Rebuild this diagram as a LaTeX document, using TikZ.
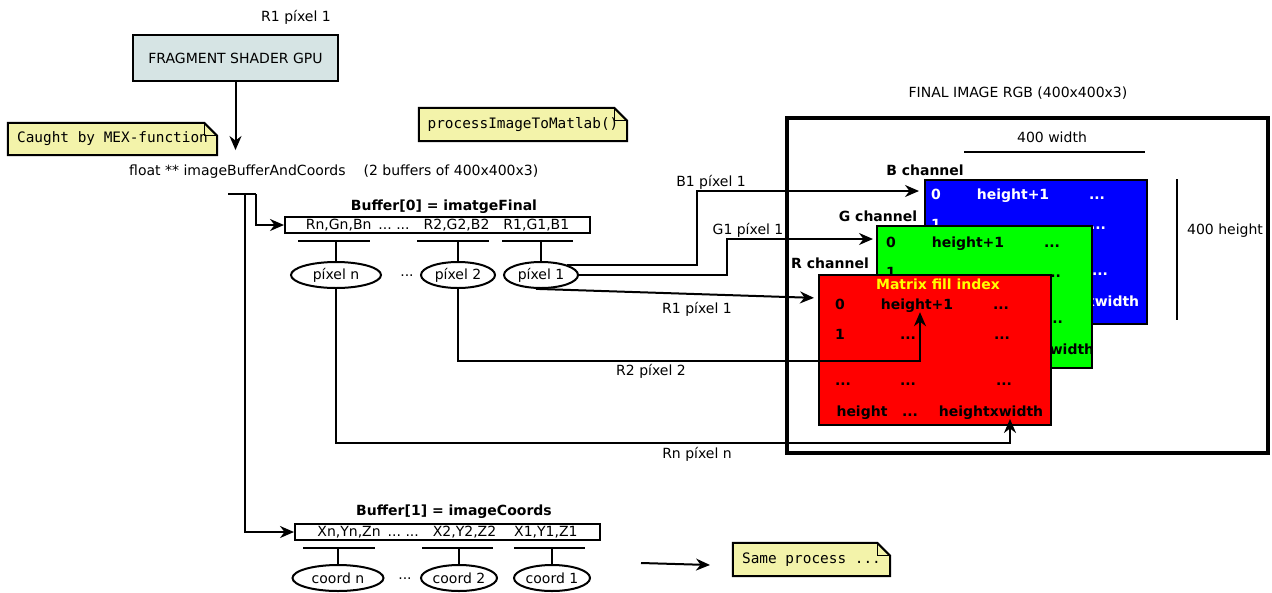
\documentclass[tikz,border=0pt]{standalone}
\usepackage{fontspec}
\setmainfont{DejaVu Sans}
\setmonofont{DejaVu Sans Mono}
\usetikzlibrary{arrows.meta,calc,shapes.geometric,backgrounds}
\definecolor{notefill}{HTML}{F3F3AA}
\definecolor{gpufill}{HTML}{D6E4E4}
\definecolor{titleyellow}{HTML}{FFFF00}

\tikzset{
  txt/.style={font=\fontsize{14}{16}\selectfont, inner sep=0pt},
  bold/.style={font=\fontsize{14}{16}\selectfont\bfseries, inner sep=0pt},
  wire/.style={line width=2pt},
  arr/.style={wire, -{Stealth[length=14pt,width=12pt,inset=4.5pt]}},
  bufbox/.style={txt, draw, line width=2pt, minimum width=305pt, minimum height=16pt},
  elem/.style={txt, draw, ellipse, line width=2pt, minimum width=90pt, minimum height=26pt},
  notetext/.style={font=\fontsize{14.4}{16}\ttfamily, inner sep=0pt},
  notedraw/.style={draw=black, line width=2pt, fill=notefill},
  chan/.style={draw, line width=2pt, inner sep=0pt, anchor=north west},
  cell/.style={bold, anchor=base, text height=10pt, text depth=3pt},
}

% sticky note outline with a folded top-right corner
\newcommand\foldnote[1]{%
  \begin{scope}[on background layer]
    \filldraw[notedraw] (#1.north west) -- ($(#1.north east)+(-13,0)$)
      -- ($(#1.north east)+(0,13)$) -- (#1.south east) -- (#1.south west) -- cycle;
  \end{scope}
  \draw[line width=1.3pt] ($(#1.north east)+(-13,0)$) -- ++(0,13) -- ++(13,0);
}

% index grid of one colour channel; #1 prefix, #2 box, #3/#4 shift, #5 text colour
\newcommand\chgrid[5]{%
  \begin{scope}[every node/.append style={cell, text=#5}]
    \node (#1-a0) at ($(#2.north west)+({#3+22},{#4+35})$) {0};
    \node (#1-a1) at ($(#2.north west)+({#3+99},{#4+35})$) {height+1};
    \node (#1-a2) at ($(#2.north west)+({#3+183},{#4+35})$) {...};
    \node (#1-b0) at ($(#2.north west)+({#3+22},{#4+65})$) {1};
    \node (#1-b1) at ($(#2.north west)+({#3+90},{#4+65})$) {...};
    \node (#1-b2) at ($(#2.north west)+({#3+184},{#4+65})$) {...};
    \node (#1-c0) at ($(#2.north west)+({#3+25},{#4+111})$) {...};
    \node (#1-c1) at ($(#2.north west)+({#3+90},{#4+111})$) {...};
    \node (#1-c2) at ($(#2.north west)+({#3+186},{#4+111})$) {...};
    \node (#1-d0) at ($(#2.north west)+({#3+44},{#4+142})$) {height};
    \node (#1-d1) at ($(#2.north west)+({#3+92},{#4+142})$) {...};
    \node (#1-d2) at ($(#2.north west)+({#3+173},{#4+142})$) {heightxwidth};
  \end{scope}
}

\begin{document}
\begin{tikzpicture}[x=1pt,y=-1pt]
\useasboundingbox (0,0) rectangle (1272,592);

% ---- GPU side ----
\node[txt] (topr1) at (296,17) {R1 píxel 1};
\node[txt, draw, fill=gpufill, line width=2pt, minimum width=205pt, minimum height=46pt]
  (gpu) at (235.5,58) {FRAGMENT SHADER GPU};
\node[notetext, minimum width=209pt, minimum height=32pt] (mex) at (112.5,139) {Caught by MEX-function};
\foldnote{mex}
\node[notetext, minimum width=208pt, minimum height=33pt] (proc) at (523,124.5) {processImageToMatlab()};
\foldnote{proc}

\node[txt, anchor=west] (fbuf) at (129,172) {float ** imageBufferAndCoords\hspace{18pt}(2 buffers of 400x400x3)};
\draw[arr, shorten >=15pt] (gpu.south) -- (gpu.south |- fbuf.north);

\coordinate (fork0) at (228,194);
\coordinate (fork1) at (245,194);
\coordinate (fork2) at (256,194);

% ---- Buffer 0 ----
\node[bold] (b0title) at (444,207) {Buffer[0] = imatgeFinal};
\node[bufbox] (buf0) at (437.5,225)
  {Rn,Gn,Bn\hspace{7pt}...\ ...\hspace{14pt}R2,G2,B2\hspace{14pt}R1,G1,B1};
\node[elem] (pixn) at (336,275) {píxel n};
\node[elem, minimum width=74pt] (pix2) at (458,275) {píxel 2};
\node[elem, minimum width=74pt] (pix1) at (541,275) {píxel 1};
\node[txt] (dots0) at (407,276) {...};
\foreach \e/\l/\r in {pixn/-38/34, pix2/-41/31, pix1/-39/32}{
  \draw[wire] ($(\e.north)+(\l,-20)$) -- ($(\e.north)+(\r,-20)$);
  \draw[wire] (\e.north) -- ++(0,-20);
}

% ---- Buffer 1 ----
\node[bold] (b1title) at (454,512) {Buffer[1] = imageCoords};
\node[bufbox] (buf1) at (447.5,532)
  {Xn,Yn,Zn\hspace{7pt}...\ ...\hspace{14pt}X2,Y2,Z2\hspace{18pt}X1,Y1,Z1};
\node[elem, minimum width=91pt] (crdn) at (338,578) {coord n};
\node[elem, minimum width=76pt] (crd2) at (459,578) {coord 2};
\node[elem, minimum width=76pt] (crd1) at (552,578) {coord 1};
\node[txt] (dots1) at (405,579) {...};
\foreach \e/\l/\r in {crdn/-35/37, crd2/-37/34, crd1/-38/33}{
  \draw[wire] ($(\e.north)+(\l,-16)$) -- ($(\e.north)+(\r,-16)$);
  \draw[wire] (\e.north) -- ++(0,-16);
}

% ---- split of the buffer pointer ----
\draw[wire] (fork0) -- (fork2);
\draw[arr] (fork2) |- (buf0.west);
\draw[arr] (fork1) |- (buf1.west);

\coordinate (samefrom) at (641,563);
\coordinate (sameto) at (710,565);
\draw[arr] (samefrom) -- (sameto);
\node[notetext, minimum width=157pt, minimum height=33pt] (same) at (811.5,559.5) {Same process ...};
\foldnote{same}

% ---- Final image ----
\node[txt] (fintitle) at (1018,93) {FINAL IMAGE RGB (400x400x3)};
\node[draw, line width=4.5pt, minimum width=481pt, minimum height=335pt, inner sep=0pt]
  (frame) at (1027.5,285.5) {};
\node[txt] (wlabel) at (1052,137) {400 width};
\coordinate (wl) at (964,152);
\coordinate (wr) at (1145,152);
\draw[wire] (wl) -- (wr);
\node[txt] (hlabel) at (1225,231) {400 height};
\coordinate (ht) at (1177,179);
\coordinate (hb) at (1177,320);
\draw[wire] (ht) -- (hb);

\node[chan, fill=blue, minimum width=222pt, minimum height=144pt] (Bbox) at (924,179) {};
\chgrid{B}{Bbox}{-10}{-15}{white}
\node[chan, fill=green, minimum width=215pt, minimum height=142pt] (Gbox) at (876,225) {};
\chgrid{G}{Gbox}{-7}{-13}{black}
\node[chan, fill=red, minimum width=232pt, minimum height=150pt] (Rbox) at (818,274) {};
\chgrid{R}{Rbox}{0}{0}{black}
\node[bold, text=titleyellow] (Rtitle) at (938,284) {Matrix fill index};

\node[bold] (Blabel) at (925,170) {B channel};
\node[bold] (Glabel) at (878,216) {G channel};
\node[bold] (Rlabel) at (830,263) {R channel};

% ---- pixel routing into the channels ----
\coordinate (bjoint) at (697,191);
\coordinate (gjoint) at (727,239);
\draw[arr, shorten >=5pt] (pix1.22) -| (bjoint) -- (bjoint -| Bbox.west);
\draw[arr, shorten >=3pt] (pix1.east) -| (gjoint) -- (gjoint -| Gbox.west);
\draw[arr, shorten >=4pt] (pix1.250) -- ($(Rbox.north west)+(0,24)$);
\node[txt] (lb1) at (711,182) {B1 píxel 1};
\node[txt] (lg1) at (748,230) {G1 píxel 1};
\node[txt] (lr1) at (697,309) {R1 píxel 1};

\draw[arr] (pix2.south) |- ($(R-a1.south)+(3,49)$) -- ($(R-a1.south)+(3,0)$);
\node[txt] (lr2) at (651,371) {R2 píxel 2};

\coordinate (rntip) at (1010,419);
\draw[arr] (pixn.south) |- ($(rntip)+(0,24)$) -- (rntip);
\node[txt] (lrn) at (697,454) {Rn píxel n};
\end{tikzpicture}
\end{document}
